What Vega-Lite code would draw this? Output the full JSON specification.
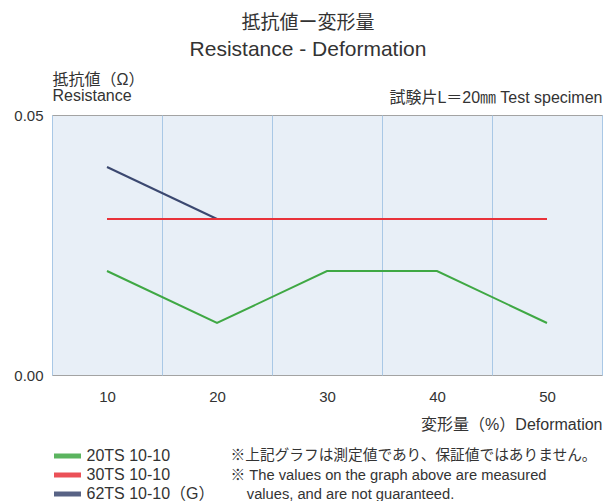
{
  "$schema": "https://vega.github.io/schema/vega-lite/v6.json",
  "width": 550,
  "height": 260,
  "autosize": {"type": "none"},
  "padding": {"left": 52, "top": 115, "right": 2, "bottom": 126},
  "config": {
    "font": "Liberation Sans, Noto Sans CJK JP",
    "view": {"fill": "#e8eff7", "stroke": "#a3a3a3", "strokeWidth": 1}
  },
  "title": {
    "text": "抵抗値ー変形量",
    "subtitle": "Resistance - Deformation",
    "fontSize": 19,
    "fontWeight": "normal",
    "subtitleFontSize": 21,
    "color": "#333333",
    "subtitleColor": "#333333",
    "anchor": "middle",
    "dx": -19,
    "dy": -7,
    "subtitlePadding": 6
  },
  "data": {
    "values": [
      {"deformation": 10, "series": "20TS 10-10", "resistance": 0.02},
      {"deformation": 20, "series": "20TS 10-10", "resistance": 0.01},
      {"deformation": 30, "series": "20TS 10-10", "resistance": 0.02},
      {"deformation": 40, "series": "20TS 10-10", "resistance": 0.02},
      {"deformation": 50, "series": "20TS 10-10", "resistance": 0.01},
      {"deformation": 10, "series": "30TS 10-10", "resistance": 0.03},
      {"deformation": 20, "series": "30TS 10-10", "resistance": 0.03},
      {"deformation": 30, "series": "30TS 10-10", "resistance": 0.03},
      {"deformation": 40, "series": "30TS 10-10", "resistance": 0.03},
      {"deformation": 50, "series": "30TS 10-10", "resistance": 0.03},
      {"deformation": 10, "series": "62TS 10-10（G）", "resistance": 0.04},
      {"deformation": 20, "series": "62TS 10-10（G）", "resistance": 0.03}
    ]
  },
  "encoding": {
    "y": {
      "field": "resistance",
      "type": "quantitative",
      "scale": {"domain": [0, 0.05], "nice": false, "zero": true},
      "axis": {
        "values": [0, 0.05],
        "format": ".2f",
        "grid": false,
        "ticks": false,
        "domain": false,
        "labelFontSize": 15,
        "labelColor": "#333333",
        "labelPadding": 9,
        "title": ["抵抗値（Ω）", "Resistance"],
        "titleAngle": 0,
        "titleAlign": "left",
        "titleBaseline": "top",
        "titleX": 0,
        "titleY": -44,
        "titleFontSize": 16,
        "titleFontWeight": "normal",
        "titleLineHeight": 16,
        "titleColor": "#333333"
      }
    },
    "color": {
      "field": "series",
      "type": "nominal",
      "scale": {
        "domain": ["20TS 10-10", "30TS 10-10", "62TS 10-10（G）"],
        "range": ["#3fa844", "#e8323a", "#3b4870"]
      },
      "legend": {
        "orient": "none",
        "legendX": 7.5,
        "legendY": 333,
        "direction": "vertical",
        "symbolType": "M-2.7,0H2.7",
        "symbolSize": 100,
        "symbolStrokeWidth": 5,
        "symbolOpacity": 0.85,
        "labelFontSize": 16,
        "labelColor": "#333333",
        "labelOffset": 11,
        "labelLimit": 300,
        "rowPadding": -1,
        "padding": 0,
        "title": ["※上記グラフは測定値であり、保証値ではありません。", "※ The values on the graph above are measured", "\u200b\u00a0\u00a0\u00a0\u00a0values, and are not guaranteed."],
        "titleOrient": "right",
        "titleAnchor": "start",
        "titleBaseline": "top",
        "titleFontSize": 14.7,
        "titleFontWeight": "normal",
        "titleColor": "#333333",
        "titleLineHeight": 19.5,
        "titlePadding": 16,
        "titleLimit": 500
      }
    }
  },
  "layer": [
    {
      "transform": [{"filter": "datum.series === '62TS 10-10（G）'"}],
      "mark": {"type": "line", "strokeWidth": 2},
      "encoding": {
        "x": {
          "field": "deformation",
          "type": "ordinal",
          "scale": {"type": "band", "paddingInner": 0, "paddingOuter": 0, "domain": [10, 20, 30, 40, 50]},
          "bandPosition": 0.5,
          "axis": {
            "orient": "top",
            "labels": false,
            "ticks": false,
            "domain": false,
            "grid": false,
            "title": "試験片L＝20㎜ Test specimen",
            "titleFontSize": 16,
            "titleFontWeight": "normal",
            "titleAnchor": "end",
            "titlePadding": 10,
            "titleColor": "#333333"
          }
        }
      }
    },
    {
      "transform": [{"filter": "datum.series === '20TS 10-10'"}],
      "mark": {"type": "line", "strokeWidth": 2},
      "encoding": {
        "x": {
          "field": "deformation",
          "type": "ordinal",
          "scale": {"type": "band", "paddingInner": 0, "paddingOuter": 0, "domain": [10, 20, 30, 40, 50]},
          "bandPosition": 0.5,
          "axis": {
            "orient": "bottom",
            "tickBand": "extent",
            "grid": true,
            "gridColor": "#a9c8e6",
            "gridWidth": 1,
            "ticks": false,
            "domain": false,
            "labelAngle": 0,
            "labelFontSize": 15,
            "labelColor": "#333333",
            "labelPadding": 14,
            "title": "変形量（%）Deformation",
            "titleFontSize": 16,
            "titleFontWeight": "normal",
            "titleColor": "#333333",
            "titleAnchor": "end",
            "titlePadding": 12
          }
        }
      }
    },
    {
      "transform": [{"filter": "datum.series === '30TS 10-10'"}],
      "mark": {"type": "line", "strokeWidth": 2},
      "encoding": {
        "x": {
          "field": "deformation",
          "type": "ordinal",
          "scale": {"type": "band", "paddingInner": 0, "paddingOuter": 0, "domain": [10, 20, 30, 40, 50]},
          "bandPosition": 0.5,
          "axis": null
        }
      }
    }
  ],
  "resolve": {"axis": {"x": "independent"}}
}
